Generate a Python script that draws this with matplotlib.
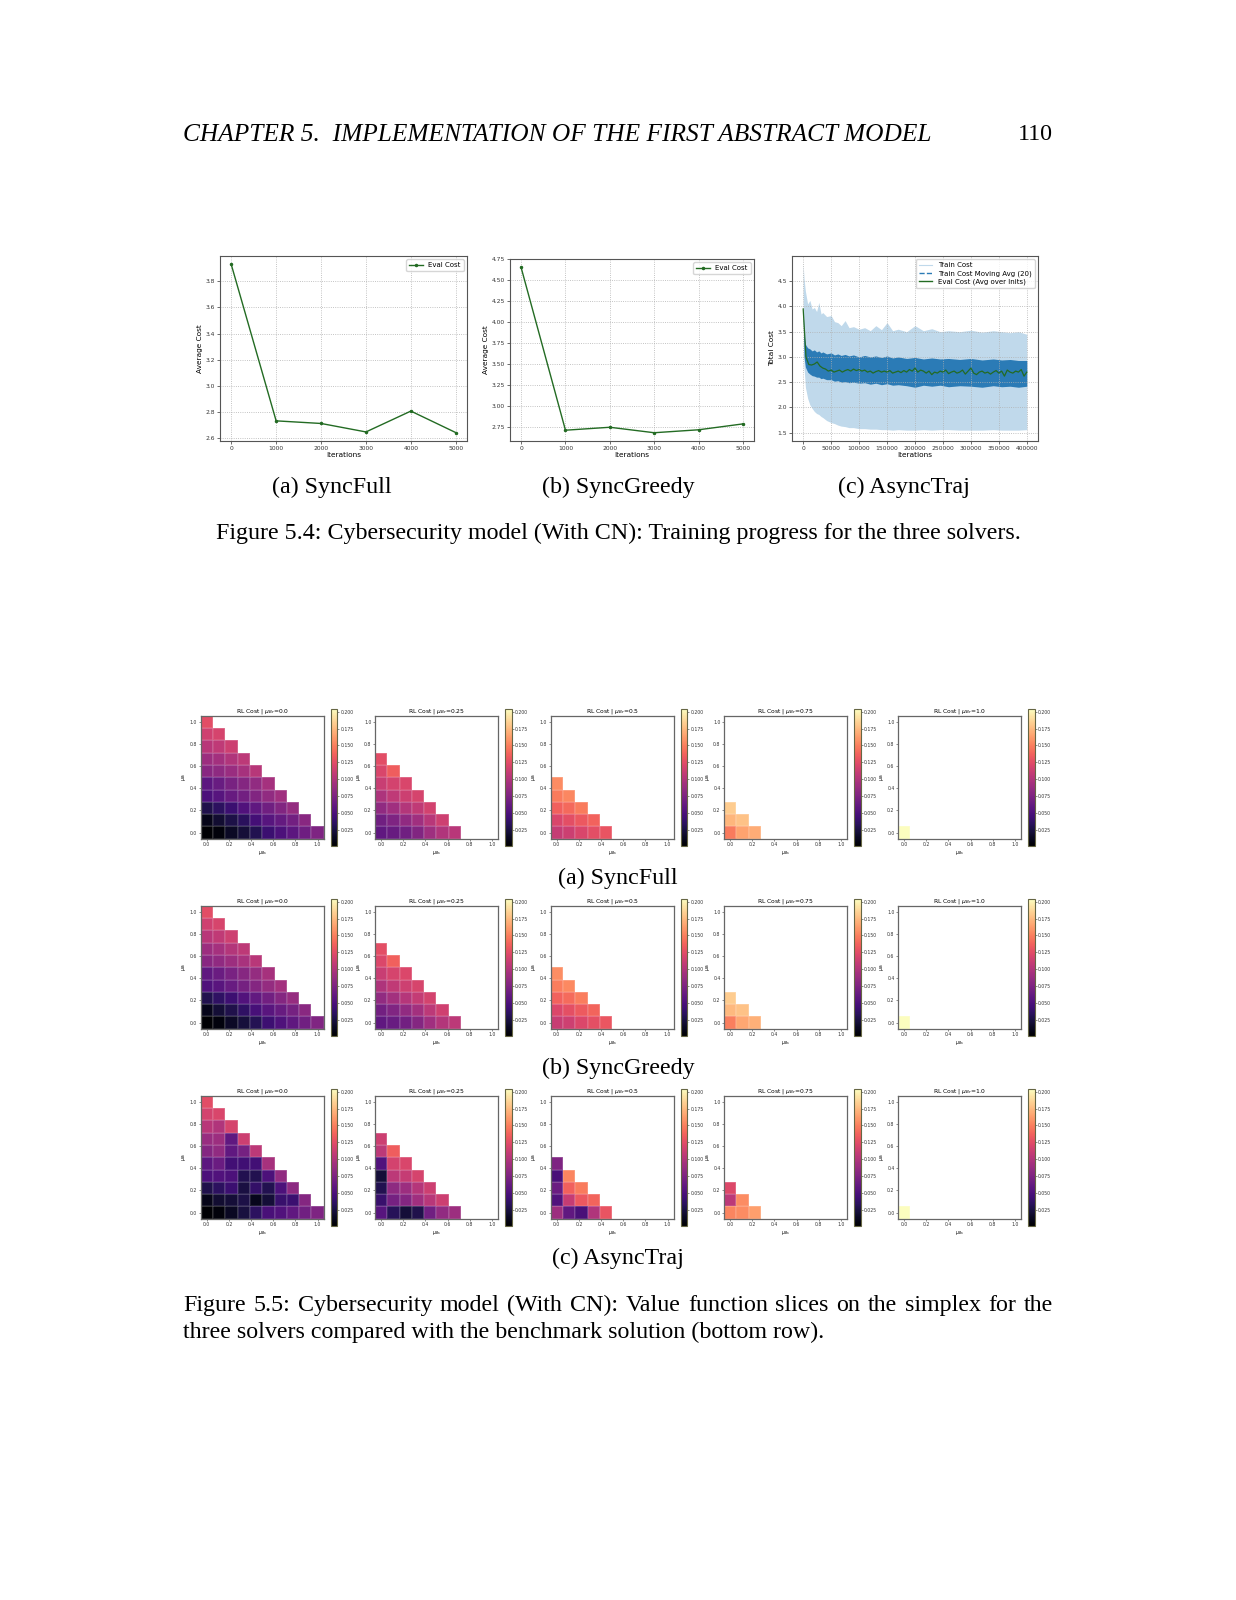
import numpy as np
import matplotlib
matplotlib.use("Agg")
import matplotlib.pyplot as plt
from matplotlib.lines import Line2D

W, H = 1236, 1600
fig = plt.figure(figsize=(W / 100, H / 100), dpi=100)
SERIF = ['Liberation Serif', 'DejaVu Serif']
CAP = 17.3

# ---------------- data: training curves ----------------
iters_sync = [0, 1000, 2000, 3000, 4000, 5000]
syncfull_eval = [3.93, 2.73, 2.71, 2.645, 2.805, 2.64]
syncgreedy_eval = [4.65, 2.715, 2.75, 2.685, 2.72, 2.79]

env_x = [0, 1500, 4000, 8000, 12000, 16000, 20000, 24000, 28000, 32000, 35000, 42000,
         50000, 56000, 62000, 68000, 75000, 82000, 90000, 100000, 110000, 120000, 130000,
         140000, 150000, 160000, 170000, 185000, 200000, 215000, 230000, 245000, 260000,
         280000, 300000, 320000, 340000, 355000, 370000, 385000, 400000]
train_hi = [4.83, 4.55, 4.30, 4.05, 4.12, 3.95, 3.98, 3.90, 4.08, 3.85, 3.88, 3.80,
            3.82, 3.70, 3.68, 3.62, 3.72, 3.58, 3.60, 3.55, 3.58, 3.52, 3.62,
            3.54, 3.68, 3.52, 3.55, 3.50, 3.62, 3.52, 3.56, 3.50, 3.52,
            3.50, 3.53, 3.49, 3.52, 3.50, 3.48, 3.50, 3.45]
train_lo = [3.90, 2.80, 2.40, 2.18, 2.05, 1.98, 1.92, 1.88, 1.86, 1.82, 1.80, 1.74,
            1.70, 1.68, 1.65, 1.63, 1.62, 1.60, 1.60, 1.58, 1.58, 1.57, 1.57,
            1.56, 1.56, 1.55, 1.56, 1.55, 1.55, 1.56, 1.55, 1.56, 1.56,
            1.55, 1.55, 1.55, 1.56, 1.55, 1.55, 1.55, 1.56]
ma_hi = [3.95, 3.45, 3.25, 3.18, 3.16, 3.12, 3.14, 3.10, 3.12, 3.08, 3.10, 3.06,
         3.08, 3.04, 3.06, 3.03, 3.05, 3.02, 3.04, 3.00, 3.03, 3.00, 3.02,
         2.99, 3.02, 2.98, 3.00, 2.97, 2.99, 2.96, 2.98, 2.96, 2.97,
         2.95, 2.97, 2.94, 2.96, 2.94, 2.95, 2.93, 2.93]
ma_lo = [3.85, 3.00, 2.80, 2.70, 2.66, 2.63, 2.62, 2.60, 2.60, 2.57, 2.58, 2.55,
         2.55, 2.52, 2.53, 2.50, 2.51, 2.49, 2.50, 2.48, 2.49, 2.46, 2.48,
         2.45, 2.47, 2.44, 2.45, 2.43, 2.40, 2.44, 2.42, 2.44, 2.41,
         2.43, 2.42, 2.40, 2.43, 2.41, 2.42, 2.40, 2.42]
async_eval = [3.95, 3.00, 2.85, 2.84, 2.86, 2.90, 2.82, 2.78, 2.76, 2.72, 2.74, 2.70,
              2.72, 2.74, 2.70, 2.73, 2.75, 2.72, 2.76, 2.73, 2.75, 2.72, 2.74, 2.70,
              2.72, 2.68, 2.71, 2.73, 2.70, 2.72, 2.70, 2.73, 2.68, 2.70, 2.72, 2.69,
              2.73, 2.70, 2.75, 2.72, 2.78, 2.70, 2.74, 2.72, 2.68, 2.72, 2.65, 2.70,
              2.68, 2.72, 2.70, 2.74, 2.67, 2.70, 2.72, 2.68, 2.70, 2.74, 2.66, 2.72,
              2.78, 2.68, 2.65, 2.70, 2.72, 2.68, 2.70, 2.66, 2.70, 2.73, 2.68, 2.72,
              2.62, 2.74, 2.70, 2.68, 2.72, 2.70, 2.75, 2.62, 2.70]
async_eval_x = list(range(0, 400001, 5000))

# ---------------- data: value function slices ----------------
# each slice: rows for mu_Bi = 0, 1/9, 2/9, ... ; values along mu_Bs
br_values = ['0.0', '0.25', '0.5', '0.75', '1.0']
solver_names = ['(a) SyncFull', '(b) SyncGreedy', '(c) AsyncTraj']

syncfull = [
    [[0.001, 0.005, 0.015, 0.022, 0.030, 0.042, 0.050, 0.058, 0.067, 0.075],
     [0.010, 0.020, 0.027, 0.034, 0.046, 0.055, 0.062, 0.069, 0.080],
     [0.028, 0.035, 0.042, 0.052, 0.060, 0.068, 0.077, 0.086],
     [0.050, 0.055, 0.063, 0.069, 0.077, 0.085, 0.092],
     [0.058, 0.064, 0.072, 0.078, 0.085, 0.094],
     [0.080, 0.083, 0.089, 0.095, 0.103],
     [0.090, 0.093, 0.100, 0.105],
     [0.104, 0.107, 0.113],
     [0.115, 0.118],
     [0.125]],
    [[0.060, 0.063, 0.068, 0.077, 0.091, 0.100, 0.104],
     [0.068, 0.075, 0.084, 0.092, 0.104, 0.114],
     [0.084, 0.092, 0.101, 0.108, 0.116],
     [0.098, 0.107, 0.113, 0.118],
     [0.112, 0.117, 0.120],
     [0.120, 0.135],
     [0.125]],
    [[0.110, 0.113, 0.120, 0.126, 0.130],
     [0.120, 0.126, 0.132, 0.137],
     [0.136, 0.140, 0.148],
     [0.148, 0.153],
     [0.155]],
    [[0.148, 0.165, 0.169],
     [0.173, 0.178],
     [0.182]],
    [[0.204]],
]

syncgreedy = [
    [[0.001, 0.006, 0.016, 0.023, 0.031, 0.043, 0.051, 0.059, 0.068, 0.076],
     [0.011, 0.021, 0.028, 0.036, 0.047, 0.056, 0.063, 0.070, 0.081],
     [0.029, 0.036, 0.043, 0.053, 0.061, 0.069, 0.078, 0.087],
     [0.051, 0.056, 0.064, 0.070, 0.078, 0.086, 0.093],
     [0.059, 0.065, 0.073, 0.079, 0.086, 0.095],
     [0.080, 0.084, 0.090, 0.096, 0.104],
     [0.090, 0.094, 0.101, 0.106],
     [0.104, 0.108, 0.114],
     [0.115, 0.119],
     [0.125]],
    [[0.060, 0.064, 0.069, 0.078, 0.092, 0.101, 0.105],
     [0.069, 0.076, 0.085, 0.093, 0.105, 0.115],
     [0.085, 0.093, 0.102, 0.109, 0.117],
     [0.099, 0.108, 0.114, 0.119],
     [0.112, 0.118, 0.121],
     [0.121, 0.136],
     [0.126]],
    [[0.111, 0.114, 0.121, 0.127, 0.131],
     [0.121, 0.127, 0.133, 0.138],
     [0.137, 0.141, 0.149],
     [0.149, 0.154],
     [0.156]],
    [[0.150, 0.166, 0.170],
     [0.174, 0.178],
     [0.182]],
    [[0.204]],
]

asynctraj = [
    [[0.001, 0.005, 0.014, 0.024, 0.035, 0.048, 0.052, 0.060, 0.068, 0.075],
     [0.010, 0.020, 0.022, 0.027, 0.012, 0.022, 0.040, 0.042, 0.078],
     [0.028, 0.035, 0.042, 0.025, 0.038, 0.030, 0.050, 0.082],
     [0.050, 0.052, 0.050, 0.030, 0.030, 0.050, 0.085],
     [0.058, 0.065, 0.045, 0.044, 0.045, 0.095],
     [0.078, 0.085, 0.060, 0.070, 0.105],
     [0.088, 0.090, 0.060, 0.113],
     [0.104, 0.100, 0.118],
     [0.117, 0.120],
     [0.125]],
    [[0.055, 0.032, 0.022, 0.028, 0.068, 0.085, 0.090],
     [0.040, 0.070, 0.078, 0.092, 0.104, 0.113],
     [0.030, 0.083, 0.090, 0.102, 0.113],
     [0.022, 0.105, 0.110, 0.118],
     [0.052, 0.117, 0.120],
     [0.105, 0.135],
     [0.113]],
    [[0.090, 0.060, 0.048, 0.100, 0.130],
     [0.052, 0.110, 0.132, 0.138],
     [0.065, 0.136, 0.148],
     [0.048, 0.152],
     [0.075]],
    [[0.152, 0.155, 0.163],
     [0.105, 0.155],
     [0.122]],
    [[0.204]],
]

grid_ticks = [0.0, 0.2, 0.4, 0.6, 0.8, 1.0]
cbar_ticks = [0.025, 0.050, 0.075, 0.100, 0.125, 0.150, 0.175, 0.200]


def add_ax(l, t, w, h):
    return fig.add_axes([l / W, 1 - (t + h) / H, w / W, h / H])


def ftext(x, y, s, **kw):
    return fig.text(x / W, 1 - y / H, s, **kw)


def justified_line(x0, x1, y, s, **kw):
    words = s.split(' ')
    renderer = fig.canvas.get_renderer()
    objs = [ftext(x0, y, w, **kw) for w in words]
    widths = [o.get_window_extent(renderer).width for o in objs]
    gap = (x1 - x0 - sum(widths)) / (len(words) - 1)
    x = x0
    for o, w in zip(objs, widths):
        o.set_x(x / W)
        x += w + gap


# ---------------- header ----------------
ftext(183, 135, "CHAPTER 5.  IMPLEMENTATION OF THE FIRST ABSTRACT MODEL", family=SERIF,
      style='italic', fontsize=18.3, ha='left', va='center')
ftext(1053, 135, "110", family=SERIF, fontsize=CAP, ha='right', va='center')


def style_line_ax(ax):
    ax.grid(True, linestyle=':', color='#b0b0b0', linewidth=0.6)
    ax.tick_params(labelsize=4.3, length=2, width=0.5, pad=1.5, colors='#333333')
    for s in ax.spines.values():
        s.set_linewidth(0.8)
        s.set_color('#555555')


green = '#236b23'
LEG = 5.0

# (a) SyncFull
ax = add_ax(220, 256, 247, 185)
ax.plot(iters_sync, syncfull_eval, color=green, marker='o', markersize=1.5, linewidth=1.0,
        label='Eval Cost')
ax.set_yticks([2.6, 2.8, 3.0, 3.2, 3.4, 3.6, 3.8])
ax.set_xticks([0, 1000, 2000, 3000, 4000, 5000])
style_line_ax(ax)
ax.set_xlabel('Iterations', fontsize=5.3, labelpad=1)
ax.set_ylabel('Average Cost', fontsize=5.3, labelpad=2)
ax.legend(loc='upper right', fontsize=LEG, handlelength=2.0, borderpad=0.4)

# (b) SyncGreedy
ax = add_ax(510, 259, 244, 182)
ax.plot(iters_sync, syncgreedy_eval, color=green, marker='o', markersize=1.5, linewidth=1.0,
        label='Eval Cost')
ax.set_yticks([2.75, 3.00, 3.25, 3.50, 3.75, 4.00, 4.25, 4.50, 4.75])
ax.set_xticks([0, 1000, 2000, 3000, 4000, 5000])
style_line_ax(ax)
ax.set_xlabel('Iterations', fontsize=5.3, labelpad=1)
ax.set_ylabel('Average Cost', fontsize=5.3, labelpad=2)
ax.legend(loc='upper right', fontsize=LEG, handlelength=2.0, borderpad=0.4)

# (c) AsyncTraj
ax = add_ax(792, 256, 246, 185)
ax.fill_between(env_x, train_lo, train_hi, color='#c0d9eb', linewidth=0)
ax.fill_between(env_x, ma_lo, ma_hi, color='#2b7bb6', linewidth=0)
ax.plot(async_eval_x, async_eval, color=green, linewidth=0.9)
ax.set_xlim(-20000, 420000)
ax.set_ylim(1.335, 5.0)
ax.set_yticks([1.5, 2.0, 2.5, 3.0, 3.5, 4.0, 4.5])
ax.set_xticks(list(range(0, 400001, 50000)))
ax.set_xticklabels([str(v) for v in range(0, 400001, 50000)])
style_line_ax(ax)
ax.set_xlabel('Iterations', fontsize=5.3, labelpad=1)
ax.set_ylabel('Total Cost', fontsize=5.3, labelpad=2)
handles = [Line2D([], [], color='#c0d9eb', linewidth=0.8),
           Line2D([], [], color='#2b7bb6', linestyle='--', linewidth=1.0),
           Line2D([], [], color=green, linewidth=1.0)]
ax.legend(handles, ['Train Cost', 'Train Cost Moving Avg (20)', 'Eval Cost (Avg over Inits)'],
          loc='upper right', fontsize=LEG, handlelength=2.0, borderpad=0.4, labelspacing=0.3)

# captions fig 5.4
for cx, name in zip([332, 618, 904], solver_names):
    ftext(cx, 487, name, family=SERIF, fontsize=CAP, ha='center', va='center')
ftext(618, 533, "Figure 5.4: Cybersecurity model (With CN): Training progress for the three solvers.",
      family=SERIF, fontsize=CAP, ha='center', va='center')

# ---------------- heatmaps ----------------
n = 10
step = 1.0 / (n - 1)
edges = np.linspace(-step / 2, 1 + step / 2, n + 1)
panel_left = [200.7, 375.0, 550.7, 724.0, 898.0]
row_top = [715.7, 905.7, 1095.7]
solvers = [syncfull, syncgreedy, asynctraj]

for r, solver in enumerate(solvers):
    allv = [v for sl in solver for row in sl for v in row]
    vmin, vmax = min(allv), max(allv)
    for c, sl in enumerate(solver):
        Z = np.full((n, n), np.nan)
        for j, row in enumerate(sl):
            for i, v in enumerate(row):
                Z[j, i] = v
        l, t = panel_left[c], row_top[r]
        ax = add_ax(l, t, 123, 123)
        mesh = ax.pcolormesh(edges, edges, np.ma.masked_invalid(Z), cmap='magma',
                             vmin=vmin, vmax=vmax, edgecolors=(1, 1, 1, 0.1), linewidth=0.25)
        ax.set_xlim(edges[0], edges[-1])
        ax.set_ylim(edges[0], edges[-1])
        ax.set_xticks(grid_ticks)
        ax.set_yticks(grid_ticks)
        ax.tick_params(labelsize=3.3, length=1.5, width=0.4, pad=1, colors='#333333')
        for s in ax.spines.values():
            s.set_linewidth(0.9)
            s.set_color('#666666')
        ax.set_title(r'RL Cost | $\mu_{Br}$=' + br_values[c], fontsize=4.3, pad=2.5)
        ax.set_xlabel(r'$\mu_{Bs}$', fontsize=3.3, labelpad=1)
        ax.set_ylabel(r'$\mu_{Bi}$', fontsize=3.3, labelpad=1)
        cax = add_ax(l + 130, t - 6.7, 6.7, 137)
        cb = fig.colorbar(mesh, cax=cax)
        cb.set_ticks(cbar_ticks)
        cb.set_ticklabels(['%.3f' % v for v in cbar_ticks])
        cb.ax.tick_params(labelsize=3.3, length=1.5, width=0.4, pad=1, colors='#333333')
        cb.outline.set_linewidth(0.8)
        cb.outline.set_edgecolor('#666644')
    ftext(618, [878, 1068.5, 1258.5][r], solver_names[r], family=SERIF, fontsize=CAP,
          ha='center', va='center')

justified_line(183, 1053, 1311,
               "Figure 5.5: Cybersecurity model (With CN): Value function slices on the simplex for the",
               family=SERIF, fontsize=CAP, ha='left', va='baseline')
ftext(183, 1338, "three solvers compared with the benchmark solution (bottom row).",
      family=SERIF, fontsize=CAP, ha='left', va='baseline')

fig.savefig('out.png', dpi=100)
